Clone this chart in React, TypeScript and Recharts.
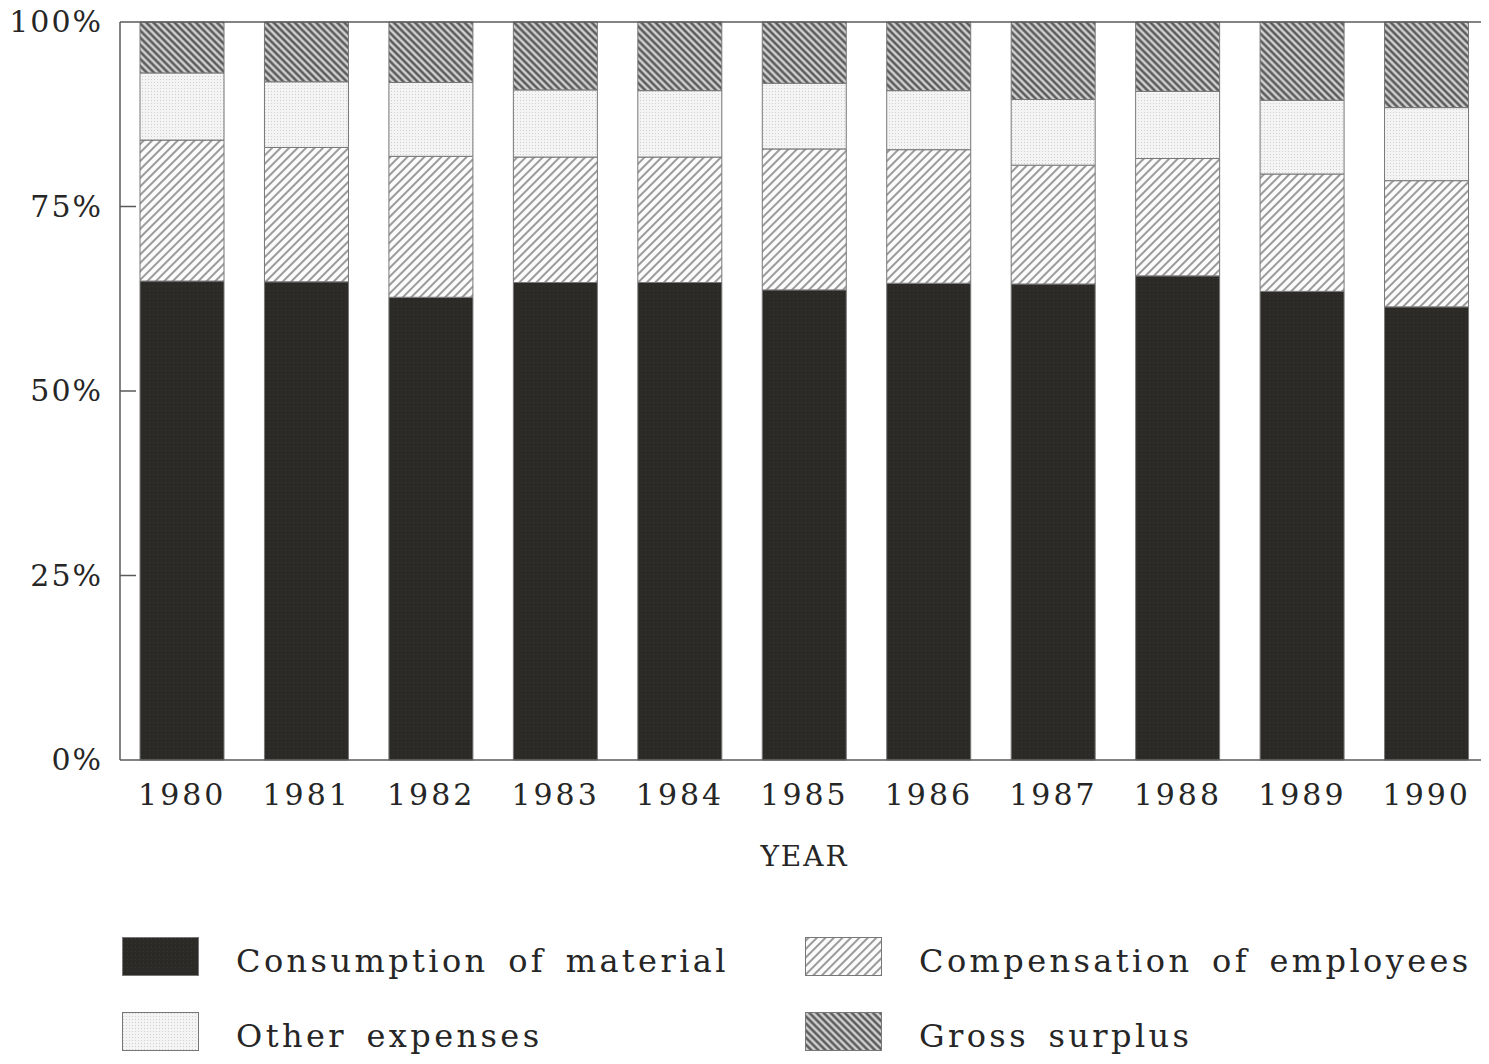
import React from 'react';
import { BarChart, Bar, XAxis, YAxis, ReferenceLine, Legend } from 'recharts';

const years = ['1980', '1981', '1982', '1983', '1984', '1985', '1986', '1987', '1988', '1989', '1990'];
const material = [64.9, 64.8, 62.7, 64.7, 64.7, 63.7, 64.6, 64.5, 65.6, 63.5, 61.4];
const compensation = [19.1, 18.2, 19.1, 17.0, 17.0, 19.1, 18.1, 16.1, 15.9, 15.9, 17.1];
const otherExpenses = [9.1, 8.9, 10.0, 9.1, 9.0, 8.9, 8.0, 8.9, 9.1, 10.0, 9.9];
const grossSurplus = [6.9, 8.1, 8.2, 9.2, 9.3, 8.3, 9.3, 10.5, 9.4, 10.6, 11.6];
const yTicks = [0, 25, 50, 75, 100];

const data = years.map((year, i) => ({
  year,
  material: material[i],
  compensation: compensation[i],
  other: otherExpenses[i],
  surplus: grossSurplus[i],
}));

const FONT = '"DejaVu Serif", "Liberation Serif", serif';
const TEXT = '#262626';
const AXIS = '#5a5a5a';

const series = [
  { key: 'material', name: 'Consumption of material', fill: 'url(#pat-material)' },
  { key: 'compensation', name: 'Compensation of employees', fill: 'url(#pat-comp)' },
  { key: 'other', name: 'Other expenses', fill: 'url(#pat-other)' },
  { key: 'surplus', name: 'Gross surplus', fill: 'url(#pat-surplus)' },
];

const YTick = (props: any) => {
  const { x, y, payload } = props;
  return (
    <g>
      <text x={x} y={y} dy={10} textAnchor="end" fontFamily={FONT} fontSize={30} fill={TEXT} letterSpacing={2}>
        {payload.value}%
      </text>
      {payload.value > 0 && payload.value < 100 && (
        <line x1={x + 17} x2={x + 33} y1={y} y2={y} stroke={AXIS} strokeWidth={1.5} />
      )}
    </g>
  );
};

// legend drawn in two columns, swatches use the same svg patterns as the bars
const LegendContent = () => (
  <div style={{ position: 'relative', width: 1489, height: 150, fontFamily: FONT, fontSize: 32, color: TEXT }}>
    {series.map((s, i) => {
      const col = i % 2;
      const row = Math.floor(i / 2);
      const left = col ? 805 : 122;
      const top = row ? 98 : 23;
      return (
        <div key={s.key}>
          <svg width={77} height={39} style={{ position: 'absolute', left, top }}>
            <rect x={0.5} y={0.5} width={76} height={38} fill={s.fill} stroke="#777" strokeWidth={1} />
          </svg>
          <div
            style={{
              position: 'absolute',
              left: left + 114,
              top: top + 2,
              lineHeight: '44px',
              whiteSpace: 'nowrap',
              letterSpacing: 3.4,
              wordSpacing: 6,
            }}
          >
            {s.name}
          </div>
        </div>
      );
    })}
  </div>
);

export default function App() {
  return (
    <div style={{ margin: -8, width: 1489, height: 1064 }}>
      <BarChart
        width={1489}
        height={1064}
        data={data}
        margin={{ top: 22, right: 0, left: 0, bottom: 0 }}
        barSize={84}
      >
        <defs>
          <pattern id="pat-material" patternUnits="userSpaceOnUse" width={4} height={4}>
            <rect width={4} height={4} fill="#2b2a26" />
            <rect x={1} y={2} width={1} height={1} fill="#37362f" />
          </pattern>
          <pattern id="pat-comp" patternUnits="userSpaceOnUse" width={6} height={6} patternTransform="rotate(-45)">
            <rect width={6} height={6} fill="#fbfbfb" />
            <line x1={0} y1={3} x2={6} y2={3} stroke="#8a8a8a" strokeWidth={1.7} />
          </pattern>
          <pattern id="pat-other" patternUnits="userSpaceOnUse" width={3} height={3}>
            <rect width={3} height={3} fill="#f4f4f4" />
            <rect x={1} y={1} width={1} height={1} fill="#d0d0d0" />
          </pattern>
          <pattern id="pat-surplus" patternUnits="userSpaceOnUse" width={5} height={5} patternTransform="rotate(45)">
            <rect width={5} height={5} fill="#d0d0d0" />
            <line x1={0} y1={2.5} x2={5} y2={2.5} stroke="#505050" strokeWidth={2.3} />
          </pattern>
        </defs>
        <XAxis
          dataKey="year"
          interval={0}
          tickLine={false}
          tickSize={0}
          tickMargin={24}
          height={154}
          axisLine={{ stroke: AXIS, strokeWidth: 1.5 }}
          tick={{ fontSize: 30, fill: TEXT, fontFamily: FONT, letterSpacing: 3 }}
          label={{ value: 'YEAR', position: 'insideTop', offset: 86, fontSize: 28, fill: TEXT, fontFamily: FONT, letterSpacing: 2 }}
        />
        <YAxis
          domain={[0, 100]}
          ticks={yTicks}
          width={120}
          tickLine={false}
          tickSize={0}
          tickMargin={17}
          axisLine={{ stroke: AXIS, strokeWidth: 1.5 }}
          tick={<YTick />}
        />
        <ReferenceLine y={100} stroke={AXIS} strokeWidth={1.5} />
        <Legend verticalAlign="bottom" align="left" content={<LegendContent />} wrapperStyle={{ left: 0, width: 1489, height: 150 }} />
        {series.map((s) => (
          <Bar
            key={s.key}
            dataKey={s.key}
            name={s.name}
            stackId="a"
            fill={s.fill}
            stroke="#777"
            strokeWidth={1}
            isAnimationActive={false}
          />
        ))}
      </BarChart>
    </div>
  );
}
